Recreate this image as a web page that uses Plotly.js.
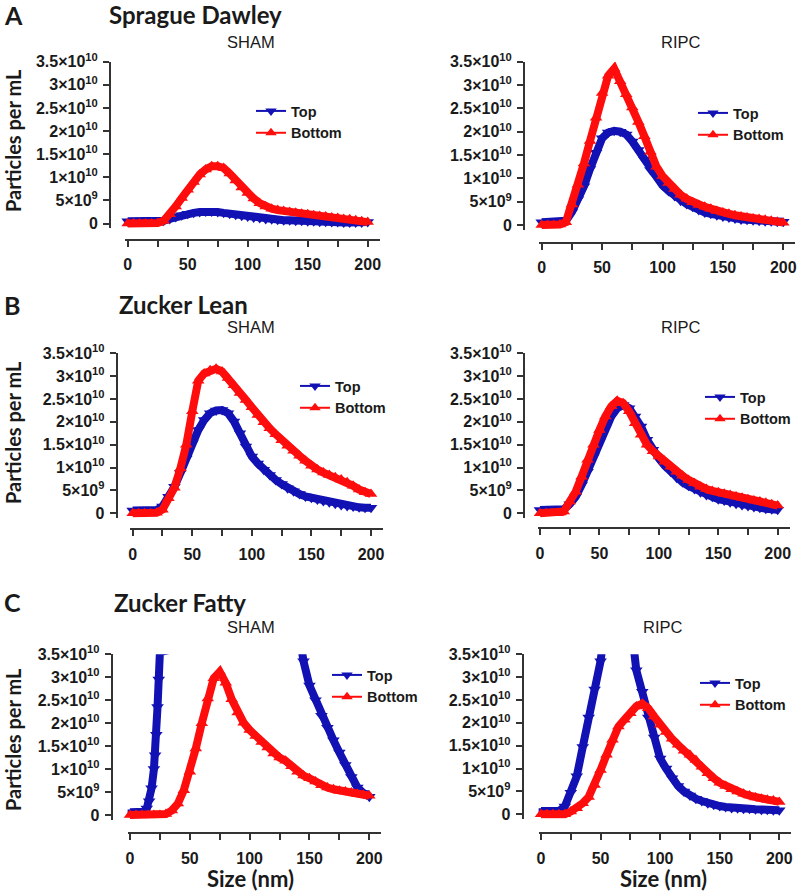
<!DOCTYPE html>
<html><head><meta charset="utf-8">
<script src="https://cdn.plot.ly/plotly-3.0.1.min.js"></script>
<style>html,body{margin:0;padding:0;background:#fff}#chart{width:800px;height:892px}</style>
</head><body><div id="chart"></div>
<script>
// Particle size (nm)
const SIZE_NM = [0,5,10,15,20,25,30,35,40,45,50,55,60,65,70,75,80,85,90,95,100,105,110,115,120,125,130,135,140,145,150,155,160,165,170,175,180,185,190,195,200];
// Values in 10^9 particles per mL
const SD_SHAM_TOP    = [0.5,0.5,0.5,0.5,0.5,0.5,0.6,1.0,1.4,1.8,2.1,2.3,2.5,2.6,2.6,2.5,2.3,2.1,1.9,1.7,1.5,1.3,1.2,1.0,0.9,0.8,0.7,0.7,0.6,0.6,0.5,0.5,0.4,0.4,0.3,0.3,0.2,0.2,0.2,0.2,0.3];
const SD_SHAM_BOTTOM = [0,0,0,0,0,0.1,0.6,2.0,3.7,5.5,7.3,9.0,10.6,11.7,12.4,12.4,12.0,10.8,9.3,7.8,6.6,5.4,4.4,3.7,3.2,2.9,2.7,2.5,2.3,2.1,2.0,1.8,1.6,1.5,1.3,1.2,1.0,0.9,0.7,0.5,0.3];
const SD_RIPC_TOP    = [0.6,0.6,0.6,0.6,0.9,2.8,5.5,8.3,12.0,15.5,18.6,19.8,20.2,20.0,19.4,17.9,16.1,14.0,11.8,10.2,8.5,7.3,6.2,5.2,4.5,3.9,3.2,2.7,2.4,2.1,1.8,1.6,1.4,1.2,1.1,1.0,0.9,0.8,0.8,0.7,0.7];
const SD_RIPC_BOTTOM = [0,0,0,0.1,0.6,4.4,8.6,13.2,18.0,23.0,28.3,32.0,33.5,30.8,28.0,25.2,22.1,19.0,15.7,12.5,10.5,9.0,7.7,6.5,5.6,4.9,4.3,3.9,3.5,3.0,2.7,2.4,2.1,1.8,1.6,1.4,1.3,1.1,0.9,0.7,0.5];
const ZL_SHAM_TOP    = [0.6,0.6,0.6,0.6,0.7,1.5,3.6,5.8,8.8,12.0,15.3,18.2,20.4,21.9,22.5,22.6,21.9,20.1,17.5,14.6,12.4,10.9,9.5,8.4,7.3,6.4,5.5,4.8,4.2,3.7,3.4,3.0,2.7,2.4,2.1,1.8,1.6,1.5,1.3,1.2,1.2];
const ZL_SHAM_BOTTOM = [0,0,0,0,0.1,0.8,3.3,5.6,9.8,15.0,22.3,29.0,30.6,31.3,31.6,31.0,29.6,28.0,26.3,24.8,23.2,21.5,19.9,18.6,17.3,16.0,14.8,13.7,12.6,11.5,10.4,9.6,8.9,8.4,7.9,7.4,6.8,6.0,5.2,4.6,4.2];
const ZL_RIPC_TOP    = [0.7,0.7,0.7,0.7,0.9,2.0,3.6,6.2,9.1,12.4,15.7,18.6,21.2,23.0,23.7,23.0,21.2,19.0,16.1,13.9,12.0,10.4,9.1,7.8,6.8,6.0,5.3,4.6,4.0,3.6,3.1,2.8,2.4,2.1,1.8,1.6,1.4,1.2,1.0,0.9,0.8];
const ZL_RIPC_BOTTOM = [0,0,0,0,0.4,2.6,4.7,8.0,11.7,15.0,18.2,21.2,23.4,24.6,24.1,22.3,19.7,17.2,15.0,13.6,12.4,11.3,10.2,9.1,8.2,7.3,6.6,5.8,5.3,4.9,4.6,4.3,4.0,3.7,3.4,3.1,2.8,2.6,2.3,2.0,1.7];
// Zucker Fatty "Top" curves run off the top of the axis; off-scale values are estimates
const ZF_SHAM_TOP_NM = [0,5,10,12,14,16,18,20,21,22,23,24,25,140,145,150,155,160,165,170,175,180,185,190,195,200];
const ZF_SHAM_TOP    = [0.6,0.6,0.6,0.7,1.4,3.0,5.8,10.0,13.0,17.5,23.5,29.5,35.5,42.0,33.5,28.2,25.0,21.6,19.0,16.3,13.6,10.9,8.3,6.0,4.8,4.0];
const ZF_SHAM_BOTTOM = [0,0,0,0,0,0,0.2,1.0,2.5,5.4,9.4,14.5,20.0,25.4,29.8,31.2,28.8,25.2,22.3,20.1,18.5,17.2,15.9,14.7,13.4,12.5,11.8,10.6,9.4,8.6,8.0,7.3,6.5,6.0,5.6,5.3,5.1,4.9,4.6,4.4,4.2];
const ZF_RIPC_TOP_NM = [0,5,10,15,20,25,30,35,40,45,50,55,75,80,85,90,95,100,105,110,115,120,125,130,135,140,145,150,155,160,165,170,175,180,185,190,195,200];
const ZF_RIPC_TOP    = [0.7,0.7,0.7,0.7,1.7,4.7,8.3,14.7,21.2,27.3,33.5,44.0,43.0,31.5,26.8,21.2,16.8,12.2,10.0,7.9,6.2,5.0,4.1,3.4,2.9,2.4,2.1,1.8,1.6,1.4,1.3,1.2,1.2,1.1,1.0,1.0,0.9,0.9];
const ZF_RIPC_BOTTOM = [0,0,0,0,0,0.6,1.3,2.4,3.8,6.4,9.7,13.0,16.3,19.2,20.7,22.1,23.6,24.2,23.2,21.4,19.6,18.0,16.5,15.2,13.9,13.0,11.9,10.4,9.0,7.9,6.9,6.2,5.5,5.0,4.5,4.1,3.7,3.4,3.2,3.0,2.7];

const X_TICKS = [0,50,100,150,200];
const X_TICK_TEXT = ['0','50','100','150','200'];
const Y_TICKS = [0,5,10,15,20,25,30,35];
const Y_TICK_TEXT = ['0','5×10<sup>9</sup>','1×10<sup>10</sup>','1.5×10<sup>10</sup>','2×10<sup>10</sup>','2.5×10<sup>10</sup>','3×10<sup>10</sup>','3.5×10<sup>10</sup>'];
const SERIES_NAMES = ['Top','Bottom'];

const W = 800, H = 892;
const BLUE = '#1212b4', RED = '#ff0d0d', AX = '#333333', TXT = '#1a1a1a';

const PANELS = [
  {topX: SIZE_NM, top: SD_SHAM_TOP, bottom: SD_SHAM_BOTTOM, clipTop:false, x0:127.7, x200:367.7, yTop:61.7, y0:223.5, yAxisX:110, xAxisY:240, legX:251, legY:95},
  {topX: SIZE_NM, top: SD_RIPC_TOP, bottom: SD_RIPC_BOTTOM, clipTop:false, x0:541.7, x200:783.3, yTop:61.7, y0:225, yAxisX:524, xAxisY:243, legX:693, legY:97},
  {topX: SIZE_NM, top: ZL_SHAM_TOP, bottom: ZL_SHAM_BOTTOM, clipTop:false, x0:132.7, x200:371, yTop:353.3, y0:513.3, yAxisX:116.7, xAxisY:529.3, legX:295, legY:370},
  {topX: SIZE_NM, top: ZL_RIPC_TOP, bottom: ZL_RIPC_BOTTOM, clipTop:false, x0:540, x200:777.7, yTop:353.3, y0:513.3, yAxisX:524, xAxisY:528.3, legX:700, legY:381},
  {topX: ZF_SHAM_TOP_NM, top: ZF_SHAM_TOP, bottom: ZF_SHAM_BOTTOM, clipTop:true, x0:130, x200:369.3, yTop:654.3, y0:815, yAxisX:111.7, xAxisY:833.3, legX:327, legY:659},
  {topX: ZF_RIPC_TOP_NM, top: ZF_RIPC_TOP, bottom: ZF_RIPC_BOTTOM, clipTop:true, x0:541, x200:779.3, yTop:654.3, y0:814.3, yAxisX:522.7, xAxisY:833.3, legX:695, legY:667}
];

const data = [];
const layout = {
  width: W, height: H, margin: {l:0, r:0, t:0, b:0},
  paper_bgcolor: '#ffffff', plot_bgcolor: 'rgba(0,0,0,0)',
  font: {family: 'Liberation Sans, Arial, sans-serif', color: TXT},
  annotations: [], showlegend: true
};

PANELS.forEach((p, i) => {
  const n = i + 1;
  const xa = n === 1 ? 'x' : 'x' + n, ya = n === 1 ? 'y' : 'y' + n;
  const lg = n === 1 ? 'legend' : 'legend' + n;
  const k = (p.x200 - p.x0) / 200;
  const py = (p.y0 - p.yTop) / 35;
  layout[n === 1 ? 'xaxis' : 'xaxis' + n] = {
    domain: [(p.x0 - 2 * k) / W, (p.x0 + 210 * k) / W], range: [-2, 210],
    anchor: 'free', position: 1 - p.xAxisY / H,
    showline: true, linecolor: AX, linewidth: 2, ticks: 'outside', ticklen: 6, tickwidth: 2, tickcolor: AX,
    tickvals: X_TICKS, ticktext: X_TICK_TEXT, ticklabelstandoff: 4,
    minor: {dtick: 25, tick0: 0, ticks: 'outside', ticklen: 6, tickwidth: 2, tickcolor: AX, showgrid: false},
    tickfont: {family: 'Liberation Sans, Arial, sans-serif', size: 16, color: TXT, weight: 'bold'},
    showgrid: false, zeroline: false, fixedrange: true
  };
  layout[n === 1 ? 'yaxis' : 'yaxis' + n] = {
    domain: [1 - (p.y0 + py) / H, 1 - p.yTop / H], range: [-1, 35],
    anchor: 'free', position: p.yAxisX / W,
    showline: true, linecolor: AX, linewidth: 2, ticks: 'outside', ticklen: 6, tickwidth: 2, tickcolor: AX,
    tickvals: Y_TICKS, ticktext: Y_TICK_TEXT, ticklabelstandoff: 2,
    tickfont: {family: 'Liberation Sans, Arial, sans-serif', size: 16, color: TXT, weight: 'bold'},
    showgrid: false, zeroline: false, fixedrange: true
  };
  data.push({
    x: p.topX, y: p.top, xaxis: xa, yaxis: ya, type: 'scatter', mode: 'lines+markers',
    line: {color: BLUE, width: 8}, marker: {symbol: 'triangle-down', size: 11, color: BLUE},
    cliponaxis: p.clipTop, showlegend: false, hoverinfo: 'skip'
  });
  data.push({
    x: SIZE_NM, y: p.bottom, xaxis: xa, yaxis: ya, type: 'scatter', mode: 'lines+markers',
    line: {color: RED, width: 8}, marker: {symbol: 'triangle-up', size: 11, color: RED},
    cliponaxis: false, showlegend: false, hoverinfo: 'skip'
  });
  // legend entries
  data.push({x: [null], y: [null], xaxis: xa, yaxis: ya, type: 'scatter', mode: 'lines+markers', name: SERIES_NAMES[0],
    line: {color: BLUE, width: 2}, marker: {symbol: 'triangle-down', size: 10, color: BLUE}, legend: lg});
  data.push({x: [null], y: [null], xaxis: xa, yaxis: ya, type: 'scatter', mode: 'lines+markers', name: SERIES_NAMES[1],
    line: {color: RED, width: 2}, marker: {symbol: 'triangle-up', size: 10, color: RED}, legend: lg});
  layout[lg] = {
    x: p.legX / W, y: 1 - p.legY / H, xanchor: 'left', yanchor: 'top',
    bgcolor: 'rgba(0,0,0,0)', borderwidth: 0, traceorder: 'normal', itemwidth: 30,
    font: {family: 'Liberation Sans, Arial, sans-serif', size: 14.5, color: TXT, weight: 'bold'}
  };
});

function ann(text, x, y, opts) {
  layout.annotations.push(Object.assign({
    text: text, x: x / W, y: 1 - y / H, xref: 'paper', yref: 'paper', showarrow: false,
    xanchor: 'center', yanchor: 'middle',
    font: {family: 'Lato, Open Sans, sans-serif', size: 24, color: TXT, weight: 'bold'}
  }, opts || {}));
}
const GROUPS = [['A','Sprague Dawley',15,42,141,107],['B','Zucker Lean',305,327,433,117],['C','Zucker Fatty',602,627,740,112]];
GROUPS.forEach(g => {
  ann(g[0], 2, g[2], {xanchor: 'left', font: {family: 'Lato, sans-serif', size: 25, color: TXT, weight: 'bold'}});
  ann(g[1], g[5], g[2], {xanchor: 'left'});
  ann('SHAM', 251, g[3], {font: {family: 'Liberation Sans, Arial, sans-serif', size: 16.5, color: TXT}});
  ann('RIPC', g[0] === 'C' ? 663 : 681, g[3], {font: {family: 'Liberation Sans, Arial, sans-serif', size: 16.5, color: TXT}});
  ann('Particles per mL', 13, g[4], {textangle: -90, font: {family: 'Lato, sans-serif', size: 20, color: TXT, weight: 'bold'}});
});
ann('Size (nm)', 251, 878, {font: {family: 'Lato, sans-serif', size: 22, color: TXT, weight: 'bold'}});
ann('Size (nm)', 663, 878, {font: {family: 'Lato, sans-serif', size: 22, color: TXT, weight: 'bold'}});

Plotly.newPlot('chart', data, layout, {staticPlot: true, displayModeBar: false});
</script>
</body></html>
